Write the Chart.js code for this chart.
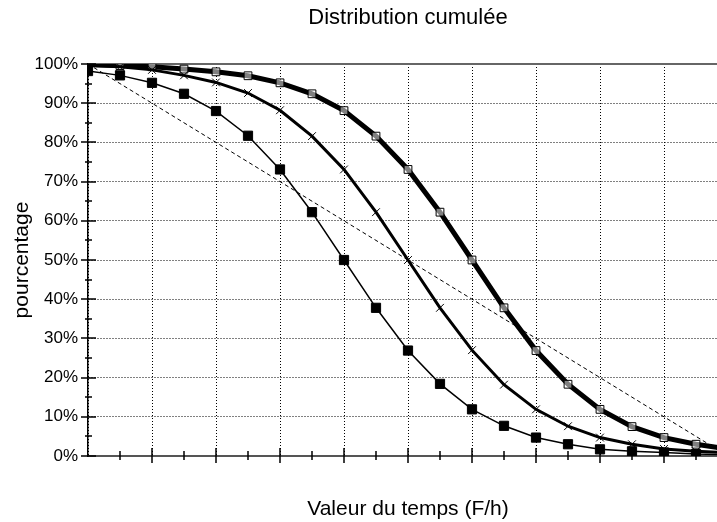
<!DOCTYPE html>
<html>
<head>
<meta charset="utf-8">
<script src="https://cdn.jsdelivr.net/npm/chart.js@4.4.1/dist/chart.umd.min.js"></script>
<style>
  html, body { margin: 0; padding: 0; overflow: hidden; background: #fff; }
  #wrap { width: 752px; height: 522px; }
</style>
</head>
<body>
<div id="wrap"><canvas id="myChart" width="752" height="522"></canvas></div>
<script>
const timeSteps = [0, 1, 2, 3, 4, 5, 6, 7, 8, 9, 10, 11, 12, 13, 14, 15, 16, 17, 18, 19, 20];

const filledSquares = [98.2, 97.1, 95.2, 92.4, 88.0, 81.7, 73.1, 62.2, 50.0, 37.8, 26.9, 18.4, 11.9, 7.7, 4.7, 3.0, 1.7, 1.2, 0.9, 0.5, 0.3];
const crosses = [99.6, 99.3, 98.5, 97.1, 95.3, 92.6, 88.2, 81.6, 73.1, 62.2, 50.0, 37.8, 27.0, 18.2, 11.9, 7.6, 4.7, 3.0, 1.8, 1.2, 0.8];
const openSquares = [99.9, 99.6, 99.3, 98.7, 98.0, 97.0, 95.2, 92.4, 88.1, 81.6, 73.1, 62.2, 50.0, 37.8, 26.9, 18.3, 11.9, 7.5, 4.7, 3.0, 1.8];

const diagonalSteps = [0, 20];
const diagonal = [100, 0];

const yTicks = [0, 10, 20, 30, 40, 50, 60, 70, 80, 90, 100];

const fontFamily = '"Liberation Sans", Arial, sans-serif';
Chart.defaults.color = "#000";
Chart.defaults.font.family = fontFamily;

function toPoints(xs, ys) {
  return xs.map((x, i) => ({ x: x, y: ys[i] }));
}

// axis ticks that cross the axis lines, plus the top frame line
const axisTicks = {
  id: "axisTicks",
  beforeDatasetsDraw(chart) {
    const { ctx, chartArea } = chart;
    ctx.save();
    ctx.strokeStyle = "#666";
    ctx.lineWidth = 2;
    ctx.beginPath();
    ctx.moveTo(chartArea.left, chartArea.top);
    ctx.lineTo(chartArea.right, chartArea.top);
    ctx.stroke();
    ctx.restore();
  },
  afterDraw(chart) {
    const { ctx, scales } = chart;
    const x = scales.x;
    const y = scales.y;
    const x0 = x.getPixelForValue(0);
    const y0 = y.getPixelForValue(0);
    ctx.save();
    ctx.strokeStyle = "#000";
    ctx.lineWidth = 1.5;
    ctx.beginPath();
    for (let v = 0; v <= 100; v += 5) {
      const py = Math.round(y.getPixelForValue(v));
      const len = v % 10 === 0 ? 7 : 3;
      ctx.moveTo(x0 - len, py);
      ctx.lineTo(x0 + len + 1, py);
    }
    for (let s = 1; s <= 20; s++) {
      const px = Math.round(x.getPixelForValue(s));
      const len = s % 2 === 0 ? 7 : 4;
      ctx.moveTo(px, y0 - len - 1);
      ctx.lineTo(px, y0 + len);
    }
    ctx.stroke();
    ctx.restore();
  },
};

const data = {
  datasets: [
    {
      label: "A",
      data: toPoints(timeSteps, filledSquares),
      borderColor: "#000",
      borderWidth: 1.5,
      pointStyle: "rect",
      pointRadius: 6.5,
      pointBackgroundColor: "#000",
      pointBorderColor: "#000",
      pointBorderWidth: 1,
    },
    {
      label: "B",
      data: toPoints(timeSteps, crosses),
      borderColor: "#000",
      borderWidth: 3,
      pointStyle: "crossRot",
      pointRadius: 5.5,
      pointBorderColor: "#000",
      pointBorderWidth: 1,
    },
    {
      label: "C",
      data: toPoints(timeSteps, openSquares),
      borderColor: "#000",
      borderWidth: 5,
      pointStyle: "rect",
      pointRadius: 5.5,
      pointBackgroundColor: "rgba(255,255,255,0.5)",
      pointBorderColor: "#000",
      pointBorderWidth: 1,
    },
    {
      label: "D",
      data: toPoints(diagonalSteps, diagonal),
      borderColor: "#000",
      borderWidth: 1,
      borderDash: [4, 3],
      pointRadius: 0,
    },
  ],
};

const config = {
  type: "line",
  data,
  options: {
    responsive: false,
    animation: false,
    devicePixelRatio: 1,
    layout: { padding: { left: 0, right: 24, top: 0, bottom: 0 } },
    elements: { line: { tension: 0, fill: false } },
    plugins: {
      legend: { display: false },
      tooltip: { enabled: false },
      title: {
        display: true,
        text: "Distribution cumulée",
        fullSize: false,
        color: "#000",
        font: { size: 22, weight: "normal", family: fontFamily },
        padding: { top: 5, bottom: 32.6 },
      },
    },
    scales: {
      x: {
        type: "linear",
        min: 0,
        max: 20,
        afterFit(scale) {
          scale.height = 66;
        },
        ticks: { display: false, stepSize: 2 },
        grid: { color: "#000", lineWidth: 1, drawTicks: false },
        border: { color: "#555", width: 2, dash: [1, 2] },
        title: {
          display: true,
          text: "Valeur du temps (F/h)",
          color: "#000",
          font: { size: 21, family: fontFamily },
          padding: { top: 0, bottom: 0 },
        },
      },
      y: {
        min: 0,
        max: 100,
        afterFit(scale) {
          scale.width = 88;
        },
        afterBuildTicks(scale) {
          scale.ticks = yTicks.map((v) => ({ value: v }));
        },
        ticks: {
          padding: 10,
          font: { size: 17, family: fontFamily },
          color: "#000",
          callback: (v) => v + "%",
        },
        grid: { color: "#000", lineWidth: 1, drawTicks: false },
        border: { color: "#000", width: 1.5, dash: [1, 2] },
        title: {
          display: true,
          text: "pourcentage",
          color: "#000",
          font: { size: 21, family: fontFamily },
          padding: { top: 10, bottom: 0 },
        },
      },
    },
  },
  plugins: [axisTicks],
};

window.chart = new Chart(document.getElementById("myChart"), config);
</script>
</body>
</html>
